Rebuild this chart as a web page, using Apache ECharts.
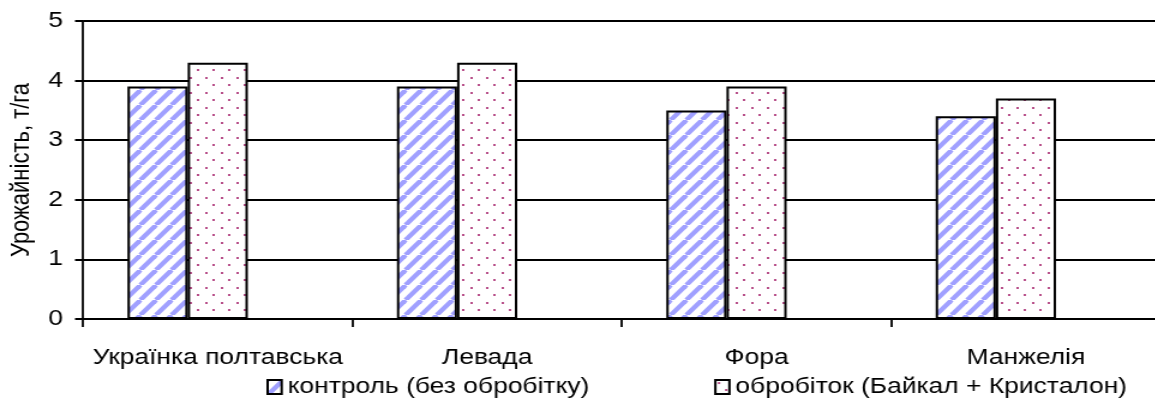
<!DOCTYPE html>
<html>
<head>
<meta charset="utf-8">
<script src="https://cdn.jsdelivr.net/npm/echarts@6/dist/echarts.min.js"></script>
<style>
  html, body { margin: 0; padding: 0; background: #fff; overflow: hidden; }
  /* the chart is laid out narrower and widened horizontally, which gives the broad lettering */
  #chart { width: 962.5px; height: 405px; transform: scaleX(1.2); transform-origin: 0 0; }
</style>
</head>
<body>
<div id="chart"></div>
<script>
// Yield by variety, t/ha
const categories = ['Українка полтавська', 'Левада', 'Фора', 'Манжелія'];
const controlValues = [3.9, 3.9, 3.5, 3.4];
const treatedValues = [4.3, 4.3, 3.9, 3.7];
const seriesNames = ['контроль (без обробітку)', 'обробіток (Байкал + Кристалон)'];
const yAxisTitle = 'Урожайність, т/га';

const FONT = '"Liberation Sans", Arial, sans-serif';
const FONT_SIZE = 22;

// Upward diagonal stripes tile
function stripeTile(w, h, color) {
  const c = document.createElement('canvas');
  c.width = w; c.height = h;
  const g = c.getContext('2d');
  g.fillStyle = '#ffffff';
  g.fillRect(0, 0, w, h);
  g.strokeStyle = color;
  g.lineWidth = 4.2;
  for (let k = -1; k <= 1; k++) {
    g.beginPath();
    g.moveTo(k * w, h);
    g.lineTo(k * w + w, 0);
    g.stroke();
  }
  return c;
}

// Staggered dots tile
function dotTile(w, h, color) {
  const c = document.createElement('canvas');
  c.width = w; c.height = h;
  const g = c.getContext('2d');
  g.fillStyle = '#ffffff';
  g.fillRect(0, 0, w, h);
  g.fillStyle = color;
  g.fillRect(2, 2, 2, 2);
  g.fillRect(8, 9, 2, 2);
  return c;
}

const stripeFill = { image: stripeTile(13, 15, '#a0a0ff'), repeat: 'repeat' };
const dotFill = { image: dotTile(13, 15, '#b8508a'), repeat: 'repeat' };

const barBorder = { borderColor: '#000', borderWidth: 2 };

const chart = echarts.init(document.getElementById('chart'), null, { renderer: 'canvas' });
chart.setOption({
  animation: false,
  backgroundColor: '#ffffff',
  textStyle: { fontFamily: FONT },
  grid: { left: 69.2, right: -4.2, top: 21, bottom: 86, outerBoundsMode: 'none', containLabel: false },
  legend: {
    data: seriesNames,
    icon: 'rect',
    left: 217,
    top: 371,
    itemWidth: 11.7,
    itemHeight: 14,
    itemGap: 104,
    textStyle: { fontFamily: FONT, fontSize: FONT_SIZE, color: '#000' },
    itemStyle: { borderColor: '#000', borderWidth: 2 }
  },
  xAxis: {
    type: 'category',
    data: categories,
    boundaryGap: true,
    axisLine: { lineStyle: { color: '#000', width: 2 } },
    axisTick: { show: true, length: 8, lineStyle: { color: '#000', width: 1.8 } },
    axisLabel: { color: '#000', fontFamily: FONT, fontSize: FONT_SIZE, margin: 28, interval: 0 }
  },
  yAxis: {
    type: 'value',
    min: 0,
    max: 5,
    interval: 1,
    name: yAxisTitle,
    nameLocation: 'middle',
    nameRotate: 90,
    nameGap: 39,
    nameTextStyle: { color: '#000', fontFamily: FONT, fontSize: FONT_SIZE },
    axisLine: { show: true, lineStyle: { color: '#000', width: 1.8 } },
    axisTick: { show: true, length: 6.7, lineStyle: { color: '#000', width: 2 } },
    axisLabel: { color: '#000', fontFamily: FONT, fontSize: FONT_SIZE, margin: 16.7 },
    splitLine: { show: true, lineStyle: { color: '#000', width: 2 } }
  },
  series: [
    {
      name: seriesNames[0],
      type: 'bar',
      data: controlValues,
      barGap: '0%',
      barCategoryGap: '33%',
      itemStyle: Object.assign({ color: stripeFill }, barBorder)
    },
    {
      name: seriesNames[1],
      type: 'bar',
      data: treatedValues,
      itemStyle: Object.assign({ color: dotFill }, barBorder)
    },
    {
      // empty slot that keeps each pair left of its category centre
      name: 'reserve',
      type: 'bar',
      data: categories.map(() => null),
      itemStyle: { color: 'transparent' }
    }
  ]
});
</script>
</body>
</html>
